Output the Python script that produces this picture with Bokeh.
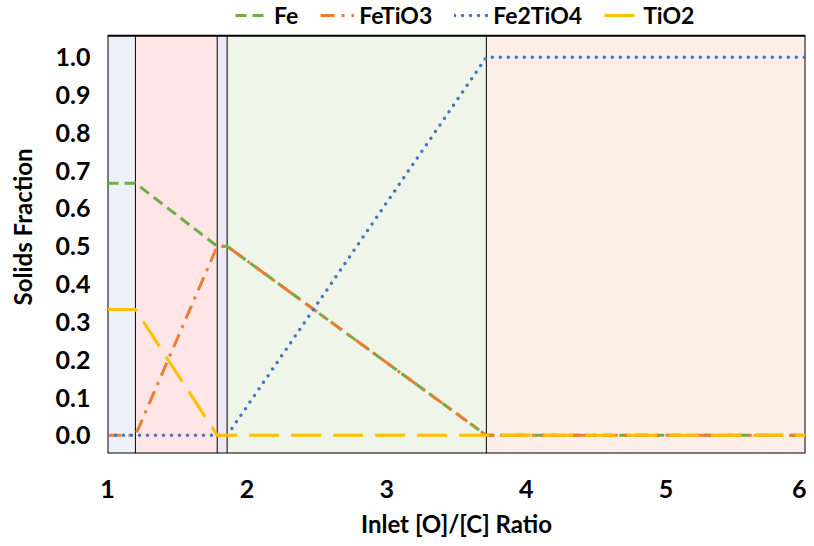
from bokeh.plotting import figure
from bokeh.models import Range1d, Legend, LegendItem, FixedTicker, CustomJSTickFormatter, ColumnDataSource
from bokeh.embed import file_html
from bokeh.resources import INLINE

# ---- data ----
ratio = [1.0, 1.2, 1.786, 1.857, 3.714, 6.0]
fe = [0.667, 0.667, 0.5, 0.5, 0.0, 0.0]
fetio3 = [0.0, 0.0, 0.5, 0.5, 0.0, 0.0]
fe2tio4 = [0.0, 0.0, 0.0, 0.0, 1.0, 1.0]
tio2 = [0.333, 0.333, 0.0, 0.0, 0.0, 0.0]
region_edges = [1.0, 1.2, 1.786, 1.857, 3.714, 6.0]
region_colors = ["#EDF2FA", "#FFE5E5", "#EEE8F5", "#EFF5E9", "#FDEFE7"]
x_ticks = [1, 2, 3, 4, 5, 6]
y_ticks = [0.0, 0.1, 0.2, 0.3, 0.4, 0.5, 0.6, 0.7, 0.8, 0.9, 1.0]
series_names = ["Fe", "FeTiO3", "Fe2TiO4", "TiO2"]

FONT = "Lato"
FS = "24px"
FS_TICK = "25px"
y0, y_top = -0.048, 1.057      # visible plot box
y_view_top = 1.150             # extra white space above the box for the legend
W, H = 806, 540
BL, BR, BT, BB = 107, 1, 0, 86
frame_h = H - BT - BB

p = figure(width=W, height=H, output_backend="svg", toolbar_location=None,
           x_range=Range1d(1, 6), y_range=Range1d(y0, y_view_top),
           min_border_left=BL, min_border_right=BR, min_border_top=BT, min_border_bottom=BB)
p.background_fill_color = "white"
p.border_fill_color = "white"
p.outline_line_color = None
p.xgrid.grid_line_color = None
p.ygrid.grid_line_color = None

# shaded regions
reg = ColumnDataSource(dict(left=region_edges[:-1], right=region_edges[1:],
                            bottom=[y0] * 5, top=[y_top] * 5, color=region_colors))
p.quad(left="left", right="right", bottom="bottom", top="top", fill_color="color",
       line_color=None, source=reg)
p.segment(x0=region_edges[1:-1], x1=region_edges[1:-1], y0=[y0] * 4, y1=[y_top] * 4,
          line_color="black", line_width=1)
# plot box border
p.quad(left=[region_edges[0]], right=[region_edges[-1]], bottom=[y0], top=[y_top],
       fill_alpha=0, line_color="black", line_width=2)

lw = 3
r_fe = p.line(ratio, fe, line_color="#70AD47", line_width=lw, line_dash="11 6")
r_fetio3 = p.line(ratio, fetio3, line_color="#ED7D31", line_width=lw, line_dash="14 7 3 7")
r_fe2 = p.line(ratio, fe2tio4, line_color="#4472C4", line_width=3.5, line_dash="0 8", line_cap="round")
r_tio2 = p.line(ratio, tio2, line_color="#FFC000", line_width=lw, line_dash="30 12")

legend = Legend(items=[LegendItem(label=n, renderers=[r]) for n, r in
                       zip(series_names, [r_fe, r_fetio3, r_fe2, r_tio2])],
                orientation="horizontal", location=(128, frame_h - 30))
legend.label_text_font = FONT
legend.label_text_font_style = "bold"
legend.label_text_font_size = "23px"
legend.label_text_color = "black"
legend.glyph_width = 34
legend.glyph_height = 20
legend.label_standoff = 5
legend.spacing = 22
legend.padding = 0
legend.margin = 0
legend.border_line_color = None
legend.background_fill_alpha = 0
p.add_layout(legend, "center")

for ax in (p.xaxis[0], p.yaxis[0]):
    ax.axis_line_color = None
    ax.major_tick_line_color = None
    ax.minor_tick_line_color = None
    ax.major_label_text_font = FONT
    ax.major_label_text_font_style = "bold"
    ax.major_label_text_font_size = FS_TICK
    ax.major_label_text_color = "black"
    ax.axis_label_text_font = FONT
    ax.axis_label_text_font_style = "bold"
    ax.axis_label_text_font_size = FS
    ax.axis_label_text_color = "black"

p.xaxis.ticker = FixedTicker(ticks=x_ticks)
p.yaxis.ticker = FixedTicker(ticks=y_ticks)
p.yaxis.formatter = CustomJSTickFormatter(code="return tick.toFixed(1);")
p.xaxis.axis_label = "Inlet [O]/[C] Ratio"
p.yaxis.axis_label = "Solids Fraction"
p.xaxis.major_label_standoff = 20
p.yaxis.major_label_standoff = 11
p.xaxis.axis_label_standoff = 8
p.yaxis.axis_label_standoff = 16

open("out.html", "w").write(file_html(p, INLINE))
